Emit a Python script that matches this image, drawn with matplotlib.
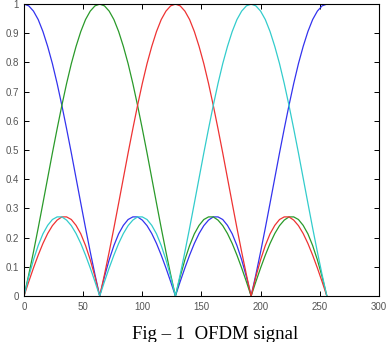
import matplotlib
matplotlib.use("Agg")
import matplotlib.pyplot as plt

# sample positions (every 4 points of the 0..256 subcarrier axis)
n = list(range(0, 257, 4))

# magnitude of each subcarrier
blue = [1.000, 0.994, 0.976, 0.947, 0.906, 0.855, 0.796, 0.728, 0.653, 0.573, 0.490, 0.404, 0.318, 0.233, 0.151, 0.073,
        0.000, 0.066, 0.124, 0.173, 0.213, 0.242, 0.262, 0.271, 0.271, 0.260, 0.241, 0.214, 0.180, 0.140, 0.096, 0.049,
        0.000, 0.049, 0.096, 0.140, 0.180, 0.214, 0.241, 0.260, 0.271, 0.271, 0.262, 0.242, 0.213, 0.173, 0.124, 0.066,
        0.000, 0.073, 0.151, 0.233, 0.318, 0.404, 0.490, 0.573, 0.653, 0.728, 0.796, 0.855, 0.906, 0.947, 0.976, 0.994,
        1.000]
green = [0.000, 0.073, 0.151, 0.233, 0.318, 0.404, 0.490, 0.573, 0.653, 0.728, 0.796, 0.855, 0.906, 0.947, 0.976, 0.994,
         1.000, 0.994, 0.976, 0.947, 0.906, 0.855, 0.796, 0.728, 0.653, 0.573, 0.490, 0.404, 0.318, 0.233, 0.151, 0.073,
         0.000, 0.066, 0.124, 0.173, 0.213, 0.242, 0.262, 0.271, 0.271, 0.260, 0.241, 0.214, 0.180, 0.140, 0.096, 0.049,
         0.000, 0.049, 0.096, 0.140, 0.180, 0.214, 0.241, 0.260, 0.271, 0.271, 0.262, 0.242, 0.213, 0.173, 0.124, 0.066,
         0.000]
red = [0.000, 0.049, 0.096, 0.140, 0.180, 0.214, 0.241, 0.260, 0.271, 0.271, 0.262, 0.242, 0.213, 0.173, 0.124, 0.066,
       0.000, 0.073, 0.151, 0.233, 0.318, 0.404, 0.490, 0.573, 0.653, 0.728, 0.796, 0.855, 0.906, 0.947, 0.976, 0.994,
       1.000, 0.994, 0.976, 0.947, 0.906, 0.855, 0.796, 0.728, 0.653, 0.573, 0.490, 0.404, 0.318, 0.233, 0.151, 0.073,
       0.000, 0.066, 0.124, 0.173, 0.213, 0.242, 0.262, 0.271, 0.271, 0.260, 0.241, 0.214, 0.180, 0.140, 0.096, 0.049,
       0.000]
cyan = [0.000, 0.066, 0.124, 0.173, 0.213, 0.242, 0.262, 0.271, 0.271, 0.260, 0.241, 0.214, 0.180, 0.140, 0.096, 0.049,
        0.000, 0.049, 0.096, 0.140, 0.180, 0.214, 0.241, 0.260, 0.271, 0.271, 0.262, 0.242, 0.213, 0.173, 0.124, 0.066,
        0.000, 0.073, 0.151, 0.233, 0.318, 0.404, 0.490, 0.573, 0.653, 0.728, 0.796, 0.855, 0.906, 0.947, 0.976, 0.994,
        1.000, 0.994, 0.976, 0.947, 0.906, 0.855, 0.796, 0.728, 0.653, 0.573, 0.490, 0.404, 0.318, 0.233, 0.151, 0.073,
        0.000]

xticks = [0, 50, 100, 150, 200, 250, 300]
yticks = [0, 0.1, 0.2, 0.3, 0.4, 0.5, 0.6, 0.7, 0.8, 0.9, 1]
ylabels = ["0", "0.1", "0.2", "0.3", "0.4", "0.5", "0.6", "0.7", "0.8", "0.9", "1"]

fig = plt.figure(figsize=(3.91, 3.42), dpi=100)
ax = fig.add_axes([0.0614, 0.1345, 0.9076, 0.8535])

ax.plot(n, blue, color="#3333ee", lw=0.9)
ax.plot(n, green, color="#2a9a2a", lw=0.9)
ax.plot(n, red, color="#ee3333", lw=0.9)
ax.plot(n, cyan, color="#33cccc", lw=0.9)

ax.set_xlim(0, 300)
ax.set_ylim(0, 1)
ax.set_xticks(xticks)
ax.set_yticks(yticks)
ax.set_yticklabels(ylabels)
ax.tick_params(direction="in", length=3.5, width=0.7, top=True, right=True,
               labelsize=7, labelcolor="#555555")
ax.tick_params(axis="y", pad=3.5)
ax.tick_params(axis="x", pad=4)
for lab in ax.get_xticklabels() + ax.get_yticklabels():
    lab.set_family("Liberation Sans")
for s in ax.spines.values():
    s.set_linewidth(0.8)

fig.text(0.55, 0.009, "Fig \u2013 1  OFDM signal", ha="center", va="baseline",
         family="Liberation Serif", fontsize=13.5)

fig.savefig("out.png", dpi=100)
